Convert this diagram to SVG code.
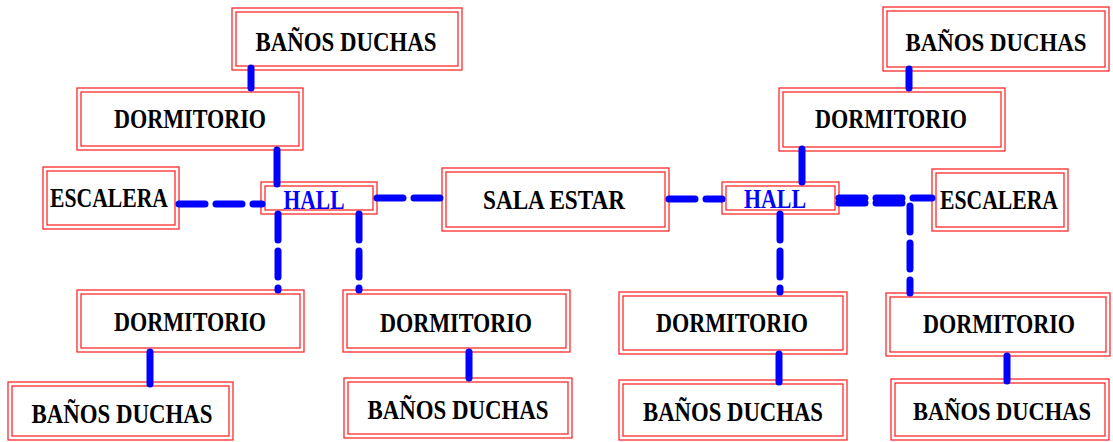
<svg xmlns="http://www.w3.org/2000/svg" width="1113" height="442" viewBox="0 0 1113 442">
<style>
.o{fill:#fff;stroke:#ff2a2a;stroke-width:1.3}
.i{fill:none;stroke:#ff2a2a;stroke-width:1.3}
.t{font-family:"Liberation Serif","DejaVu Serif",serif;font-weight:bold;font-size:27px;fill:#000;text-anchor:middle}
.s{font-size:25px}
.h{fill:#0000ff}
.c{fill:none;stroke:#0000ff;stroke-width:7;stroke-linecap:round}
.d{stroke-dasharray:26 11}
</style>
<g id="banos1"><rect class="o" x="232" y="8" width="230" height="62"/><rect class="i" x="236" y="12" width="222" height="54"/><text class="t" x="346" y="51" textLength="181" lengthAdjust="spacingAndGlyphs">BAÑOS DUCHAS</text></g>
<g id="dorm1"><rect class="o" x="77" y="88" width="226" height="62"/><rect class="i" x="81" y="92" width="218" height="54"/><text class="t" x="190" y="128" textLength="152" lengthAdjust="spacingAndGlyphs">DORMITORIO</text></g>
<g id="esc1"><rect class="o" x="43" y="167" width="136" height="62"/><rect class="i" x="47" y="171" width="128" height="54"/><text class="t" x="109" y="207" textLength="118" lengthAdjust="spacingAndGlyphs">ESCALERA</text></g>
<g id="hall1"><rect class="o" x="261" y="182" width="116" height="32"/><rect class="i" x="265" y="186" width="108" height="24"/><text class="t h" x="314" y="209" textLength="61" lengthAdjust="spacingAndGlyphs">HALL</text></g>
<g id="sala"><rect class="o" x="442" y="168" width="227" height="63"/><rect class="i" x="446" y="172" width="219" height="55"/><text class="t" x="554" y="209" textLength="142" lengthAdjust="spacingAndGlyphs">SALA ESTAR</text></g>
<g id="hall2"><rect class="o" x="722" y="182" width="117" height="32"/><rect class="i" x="726" y="186" width="109" height="24"/><text class="t h" x="775" y="208" textLength="62" lengthAdjust="spacingAndGlyphs">HALL</text></g>
<g id="dorm2"><rect class="o" x="779" y="88" width="226" height="63"/><rect class="i" x="783" y="92" width="218" height="55"/><text class="t" x="891" y="128" textLength="152" lengthAdjust="spacingAndGlyphs">DORMITORIO</text></g>
<g id="banos2"><rect class="o" x="883" y="7" width="226" height="64"/><rect class="i" x="887" y="11" width="218" height="56"/><text class="t s" x="996" y="51" textLength="181" lengthAdjust="spacingAndGlyphs">BAÑOS DUCHAS</text></g>
<g id="esc2"><rect class="o" x="932" y="169" width="136" height="62"/><rect class="i" x="936" y="173" width="128" height="54"/><text class="t" x="999" y="209" textLength="118" lengthAdjust="spacingAndGlyphs">ESCALERA</text></g>
<g id="dorm3"><rect class="o" x="77" y="290" width="227" height="62"/><rect class="i" x="81" y="294" width="219" height="54"/><text class="t" x="190" y="331" textLength="152" lengthAdjust="spacingAndGlyphs">DORMITORIO</text></g>
<g id="banos3"><rect class="o" x="8" y="382" width="225" height="58"/><rect class="i" x="12" y="386" width="217" height="50"/><text class="t" x="122" y="423" textLength="181" lengthAdjust="spacingAndGlyphs">BAÑOS DUCHAS</text></g>
<g id="dorm4"><rect class="o" x="343" y="290" width="227" height="62"/><rect class="i" x="347" y="294" width="219" height="54"/><text class="t" x="456" y="332" textLength="152" lengthAdjust="spacingAndGlyphs">DORMITORIO</text></g>
<g id="banos4"><rect class="o" x="344" y="378" width="228" height="60"/><rect class="i" x="348" y="382" width="220" height="52"/><text class="t" x="458" y="419" textLength="181" lengthAdjust="spacingAndGlyphs">BAÑOS DUCHAS</text></g>
<g id="dorm5"><rect class="o" x="619" y="292" width="228" height="62"/><rect class="i" x="623" y="296" width="220" height="54"/><text class="t" x="732" y="332" textLength="152" lengthAdjust="spacingAndGlyphs">DORMITORIO</text></g>
<g id="banos5"><rect class="o" x="619" y="380" width="228" height="60"/><rect class="i" x="623" y="384" width="220" height="52"/><text class="t" x="733" y="421" textLength="180" lengthAdjust="spacingAndGlyphs">BAÑOS DUCHAS</text></g>
<g id="dorm6"><rect class="o" x="886" y="293" width="224" height="63"/><rect class="i" x="890" y="297" width="216" height="55"/><text class="t" x="999" y="333" textLength="152" lengthAdjust="spacingAndGlyphs">DORMITORIO</text></g>
<g id="banos6"><rect class="o" x="891" y="379" width="218" height="61"/><rect class="i" x="895" y="383" width="210" height="53"/><text class="t s" x="1002" y="420" textLength="178" lengthAdjust="spacingAndGlyphs">BAÑOS DUCHAS</text></g>
<g id="connectors">
<path class="c" d="M251,68V88"/>
<path class="c" d="M277,150V184"/>
<path class="c" d="M909,69V88"/>
<path class="c" d="M802,149V182"/>
<path class="c" d="M150,352V384"/>
<path class="c" d="M469,352V378"/>
<path class="c" d="M779,354V382"/>
<path class="c" d="M1007,356V381"/>
<path class="c d" d="M179,204H262"/>
<path class="c d" d="M278,214V290"/>
<path class="c d" d="M359,214V290"/>
<path class="c d" d="M377,198H442"/>
<path class="c d" d="M669,199H722"/>
<path class="c d" d="M780,214V292"/>
<path class="c d" d="M839,198H932"/>
<path class="c d" d="M839,203H910V293"/>
</g>
</svg>
